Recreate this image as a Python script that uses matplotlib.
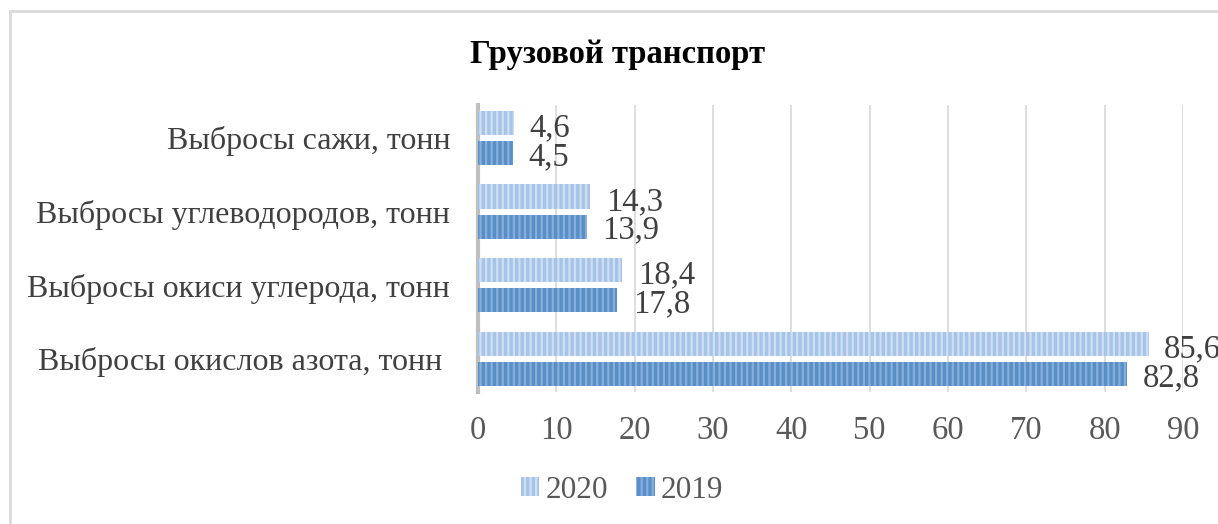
import matplotlib.pyplot as plt
import matplotlib.patches as mpatches
import numpy as np

# ============ данные ============
categories = ["Выбросы сажи, тонн", "Выбросы углеводородов, тонн",
              "Выбросы окиси углерода, тонн", "Выбросы окислов азота, тонн "]
values_2020 = [4.6, 14.3, 18.4, 85.6]
values_2019 = [4.5, 13.9, 17.8, 82.8]
series_names = ["2020", "2019"]
x_ticks = [0, 10, 20, 30, 40, 50, 60, 70, 80, 90]

plt.rcParams["font.family"] = ["Liberation Serif", "DejaVu Serif"]
plt.rcParams["hatch.linewidth"] = 1.6

fig = plt.figure(figsize=(12.18, 5.24), dpi=100)
ax = fig.add_axes([0.3924, 0.252, 0.5789, 0.548])

# рамка вокруг диаграммы
frame = mpatches.Rectangle((10 / 1218, -0.05), 1.2, 1 - 11 / 524 + 0.05,
                           transform=fig.transFigure, fill=False,
                           edgecolor="#d9d9d9", linewidth=2)
fig.patches.append(frame)

y = np.arange(len(categories))
h = 0.33
off = 0.205
ax.barh(y - off, values_2020, height=h, color="#a6c4e8", edgecolor="#cfdff3",
        hatch="|||", linewidth=0, zorder=3)
ax.barh(y + off, values_2019, height=h, color="#5a8ec6", edgecolor="#86aedb",
        hatch="|||", linewidth=0, zorder=3)

for yi, v in zip(y - off, values_2020):
    ax.text(v + 2.0, yi + 0.07, f"{v:.1f}".replace(".", ","), va="center",
            ha="left", fontsize=23.5, color="#404040")
for yi, v in zip(y + off, values_2019):
    ax.text(v + 2.0, yi + 0.05, f"{v:.1f}".replace(".", ","), va="center",
            ha="left", fontsize=23.5, color="#404040")

ax.set_xlim(0, 90)
ax.set_ylim(3.45, -0.45)
ax.set_xticks(x_ticks)
ax.set_xticklabels([str(t) for t in x_ticks], fontsize=23.5, color="#595959")
ax.set_yticks(y)
ax.set_yticklabels(categories, fontsize=23, color="#404040")
ax.tick_params(axis="both", length=0)
ax.tick_params(axis="x", pad=17)
ax.tick_params(axis="y", pad=20)
ax.grid(axis="x", color="#d9d9d9", linewidth=1.2, zorder=0)
for s in ["top", "right", "bottom"]:
    ax.spines[s].set_visible(False)
ax.spines["left"].set_color("#bfbfbf")
ax.spines["left"].set_linewidth(3)

fig.text(618 / 1218, 1 - 55 / 524, "Грузовой транспорт", ha="center", va="center",
         fontsize=23.5, fontweight="bold", color="black")

handles = [
    mpatches.Patch(facecolor="#a6c4e8", edgecolor="#cfdff3", hatch="|||", linewidth=0),
    mpatches.Patch(facecolor="#5a8ec6", edgecolor="#86aedb", hatch="|||", linewidth=0),
]
fig.legend(handles, series_names, loc="center", bbox_to_anchor=(622 / 1218, 1 - 490 / 524),
           ncol=2, frameon=False, fontsize=22.5, labelcolor="#595959",
           handlelength=0.6, handleheight=0.6, handletextpad=0.2, columnspacing=0.9)

fig.savefig("out.png", dpi=100)
